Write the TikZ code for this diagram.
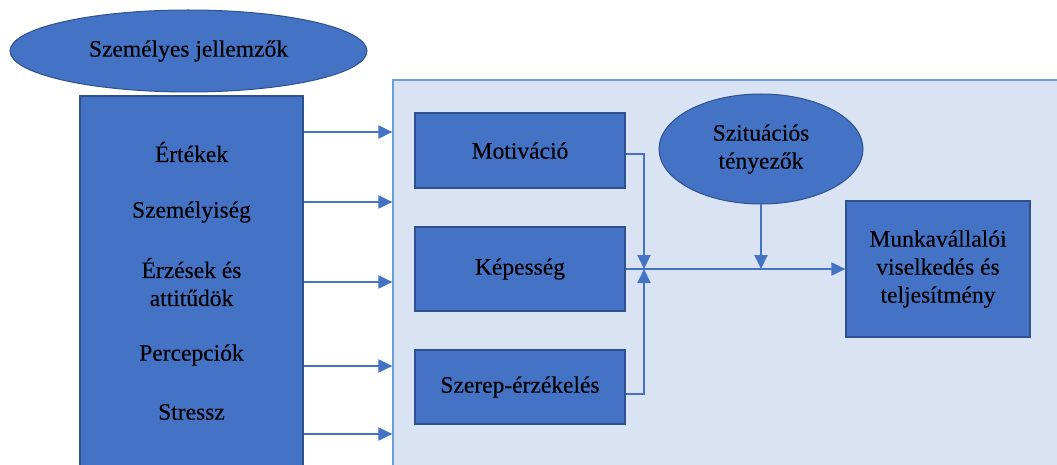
\documentclass[tikz,border=0pt]{standalone}
\usepackage{fontspec}
\setmainfont{Liberation Serif}
\newfontfamily\diagfont[FakeBold=0.35]{Liberation Serif}
\usetikzlibrary{arrows.meta,shapes.geometric}
\definecolor{boxblue}{HTML}{4472C4}
\definecolor{boxedge}{HTML}{2F528F}
\definecolor{panelfill}{HTML}{DAE3F3}
\definecolor{paneledge}{HTML}{6A9FDB}
\begin{document}
\begin{tikzpicture}[x=1pt,y=-1pt,
  txt/.style={font=\diagfont\fontsize{23.5}{28}\selectfont, align=center, text=black},
  bluebox/.style={txt, draw=boxedge, fill=boxblue, line width=1.2pt, inner sep=0pt, rectangle},
  blueell/.style={txt, draw=boxedge, fill=boxblue, line width=1pt, inner sep=0pt, ellipse},
  conn/.style={draw=boxblue, line width=2pt},
  arr/.style={conn, -{Triangle[length=14pt,width=13pt]}}]
\useasboundingbox (0,0) rectangle (1057,465);
\clip (0,0) rectangle (1057,465);
% panel
\node[draw=paneledge, fill=panelfill, line width=1.2pt, minimum width=677pt, minimum height=400pt, inner sep=0pt] (panel) at (731.5,280) {};
% personal characteristics
\node[blueell, minimum width=357pt, minimum height=82pt] (pers) at (188.5,51) {Személyes jellemzők};
\node[bluebox, minimum width=223pt, minimum height=374pt] (left) at (191.5,283) {};
\node[txt] (t1) at (191.5,152) {Értékek};
\node[txt] (t2) at (191.5,212) {Személyiség};
\node[txt] (t3) at (191.5,282) {Érzések és\\attitűdök};
\node[txt] (t4) at (191.5,355) {Percepciók};
\node[txt] (t5) at (191.5,412) {Stressz};
% arrows into panel
\foreach \yy/\nm in {132/a1,202/a2,282/a3,366/a4,434/a5}{
  \coordinate (\nm) at (0,\yy);
  \draw[arr] (left.east |- \nm) -- (panel.west |- \nm);
}
% inner boxes
\node[bluebox, minimum width=210pt, minimum height=75pt] (mot) at (520,150.5) {Motiváció};
\node[bluebox, minimum width=210pt, minimum height=84pt] (kep) at (520,269) {Képesség};
\node[bluebox, minimum width=210pt, minimum height=74pt] (szer) at (520,387) {Szerep-érzékelés};
\node[blueell, minimum width=204pt, minimum height=110pt] (sit) at (761,149) {Szituációs\\tényezők};
\node[bluebox, minimum width=184pt, minimum height=136pt] (munk) at (938,269) {Munkavállalói\\viselkedés és\\teljesítmény};
% junction
\coordinate (J) at (644,269);
\coordinate (m1) at (0,154);
\coordinate (s1) at (0,394);
\draw[conn] (kep.east) -- (J);
\draw[arr] (J) -- (munk.west);
\draw[arr] (mot.east |- m1) -| (J);
\draw[arr] (szer.east |- s1) -| (J);
\draw[arr] (sit.south) -- (sit.south |- J);
\end{tikzpicture}
\end{document}
